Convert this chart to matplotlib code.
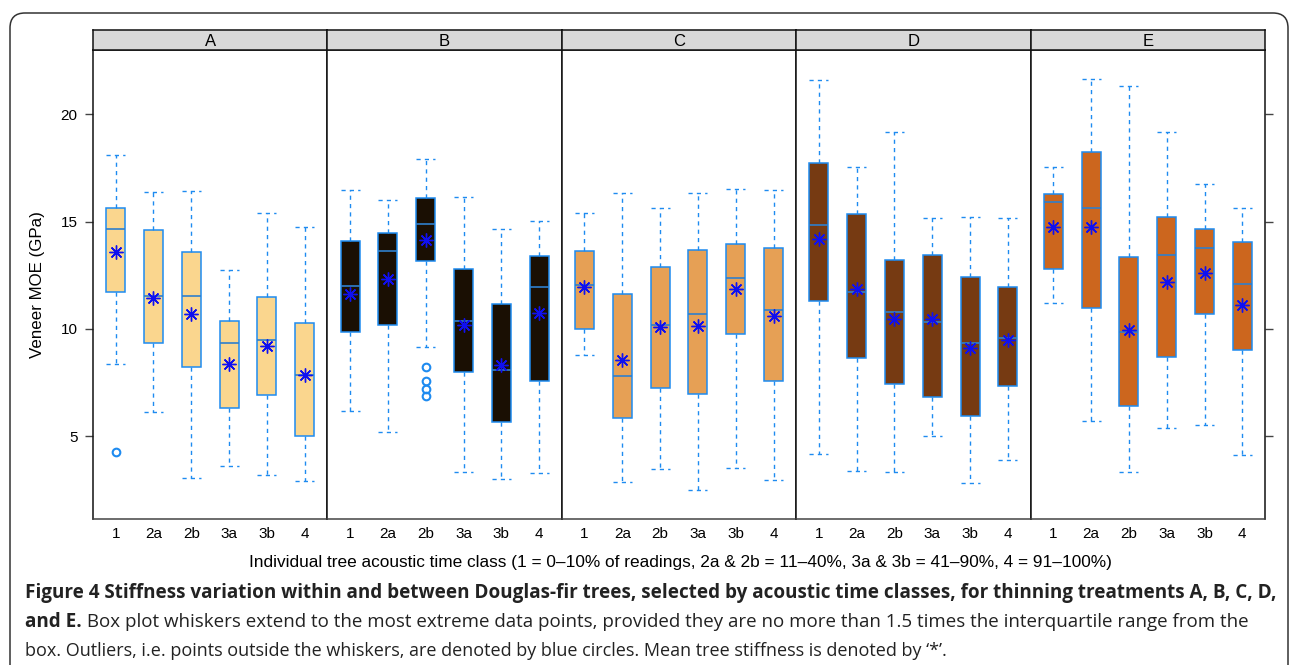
import matplotlib
matplotlib.use("Agg")
import matplotlib.pyplot as plt
from matplotlib import font_manager
from matplotlib.patches import FancyBboxPatch

W, H = 1290, 665

treatments = ["A", "B", "C", "D", "E"]
classes = ["1", "2a", "2b", "3a", "3b", "4"]
fills = ["#FAD68E", "#1A0F03", "#E6A055", "#763A12", "#CC661E"]

# values (GPa), one list per treatment, in class order
whislo = {
    "A": [8.39, 6.15, 3.08, 3.63, 3.21, 2.92],
    "B": [6.20, 5.19, 9.15, 3.36, 3.04, 3.32],
    "C": [8.78, 2.88, 3.50, 2.51, 3.55, 2.96],
    "D": [4.20, 3.41, 3.36, 5.00, 2.85, 3.89],
    "E": [11.19, 5.72, 3.33, 5.38, 5.55, 4.15],
}
q1 = {
    "A": [11.71, 9.33, 8.25, 6.31, 6.94, 5.00],
    "B": [9.88, 10.20, 13.15, 8.02, 5.66, 7.60],
    "C": [10.02, 5.85, 7.24, 6.99, 9.75, 7.58],
    "D": [11.32, 8.65, 7.43, 6.82, 5.95, 7.35],
    "E": [12.81, 10.98, 6.43, 8.68, 10.70, 9.02],
}
med = {
    "A": [14.65, 11.53, 11.52, 9.33, 9.47, 7.85],
    "B": [11.98, 13.64, 14.87, 10.36, 8.08, 11.94],
    "C": [12.03, 7.83, 10.19, 10.71, 12.36, 10.88],
    "D": [14.84, 11.74, 10.81, 10.34, 9.33, 9.57],
    "E": [15.91, 15.61, 9.84, 13.43, 13.75, 12.11],
}
q3 = {
    "A": [15.64, 14.59, 13.60, 10.39, 11.47, 10.26],
    "B": [14.11, 14.45, 16.08, 12.78, 11.18, 13.38],
    "C": [13.64, 11.61, 12.90, 13.69, 13.94, 13.77],
    "D": [17.71, 15.37, 13.19, 13.43, 12.40, 11.94],
    "E": [16.29, 18.25, 13.33, 15.22, 14.64, 14.03],
}
whishi = {
    "A": [18.11, 16.36, 16.43, 12.73, 15.41, 14.76],
    "B": [16.48, 15.98, 17.89, 16.14, 14.67, 15.02],
    "C": [15.41, 16.31, 15.61, 16.33, 16.53, 16.45],
    "D": [21.57, 17.52, 19.15, 15.18, 15.22, 15.18],
    "E": [17.52, 21.64, 21.32, 19.18, 16.73, 15.61],
}
means = {
    "A": [13.58, 11.46, 10.70, 8.36, 9.22, 7.85],
    "B": [11.63, 12.34, 14.12, 10.17, 8.31, 10.74],
    "C": [11.94, 8.57, 10.09, 10.14, 11.85, 10.62],
    "D": [14.17, 11.85, 10.48, 10.48, 9.13, 9.50],
    "E": [14.76, 14.76, 9.94, 12.19, 12.62, 11.12],
}
outliers = {
    "A": [[4.26], [], [], [], [], []],
    "B": [[], [], [8.25, 7.58, 7.22, 6.88], [], [], []],
    "C": [[], [], [], [], [], []],
    "D": [[], [], [], [], [], []],
    "E": [[], [], [], [], [], []],
}

ylabel = "Veneer MOE (GPa)"
xlabel = ("Individual tree acoustic time class (1 = 0\u201310% of readings, "
          "2a & 2b = 11\u201340%, 3a & 3b = 41\u201390%, 4 = 91\u2013100%)")
cap1 = ("Figure 4 Stiffness variation within and between Douglas-fir trees, selected by "
        "acoustic time classes, for thinning treatments A, B, C, D,")
cap2_bold = "and E."
cap2 = (" Box plot whiskers extend to the most extreme data points, provided they are "
        "no more than 1.5 times the interquartile range from the")
cap3 = ("box. Outliers, i.e. points outside the whiskers, are denoted by blue circles. "
        "Mean tree stiffness is denoted by \u2018*\u2019.")

plt.rcParams["font.family"] = ["Liberation Sans", "DejaVu Sans"]
available = {f.name for f in font_manager.fontManager.ttflist}
cap_font = "Liberation Sans Narrow" if "Liberation Sans Narrow" in available else "Open Sans"

blue = "#1E8BF0"
fig = plt.figure(figsize=(W / 100, H / 100), dpi=100)

# rounded frame around figure + caption
frame = FancyBboxPatch((0.10, -0.3), 12.78, 6.82, boxstyle="round,pad=0,rounding_size=0.15",
                       transform=fig.dpi_scale_trans, fill=False, ec="#333333", lw=1.1)
fig.patches.append(frame)

x0, x1, ytop, ybot = 93, 1265, 50, 519
pw = (x1 - x0) / 5
for i, tr in enumerate(treatments):
    ax = fig.add_axes([(x0 + i * pw) / W, 1 - ybot / H, pw / W, (ybot - ytop) / H])
    stats = []
    for j, c in enumerate(classes):
        stats.append(dict(label=c, whislo=whislo[tr][j], q1=q1[tr][j], med=med[tr][j],
                          q3=q3[tr][j], whishi=whishi[tr][j], mean=means[tr][j],
                          fliers=outliers[tr][j]))
    ax.bxp(stats, positions=range(1, 7), widths=0.5, capwidths=0.5, patch_artist=True,
           showmeans=True,
           boxprops=dict(facecolor=fills[i], edgecolor=blue, lw=1.1),
           medianprops=dict(color="#2F7FCC", lw=1.2),
           whiskerprops=dict(color=blue, lw=1.0, linestyle=(0, (3, 3))),
           capprops=dict(color=blue, lw=1.0, linestyle=(0, (3, 3))),
           flierprops=dict(marker="o", mfc="none", mec=blue, ms=5.5, mew=1.5),
           meanprops=dict(marker=(8, 2, 0), color="#1010F0", mec="#1010F0", ms=10, mew=1.0))
    ax.set_xlim(0.4, 6.6)
    ax.set_ylim(1.16, 22.98)
    ax.set_yticks([5, 10, 15, 20])
    ax.tick_params(axis="x", length=0, pad=6, labelsize=11)
    if i == 0:
        ax.tick_params(axis="y", direction="out", length=6, width=1.0, pad=5,
                       labelsize=11, color="#444444")
    elif i == 4:
        ax.tick_params(axis="y", direction="out", length=6, width=1.0, left=False,
                       labelleft=False, right=True, color="#444444")
    else:
        ax.tick_params(axis="y", left=False, labelleft=False)
    for s in ax.spines.values():
        s.set_linewidth(1.1)
        s.set_color("#111111")
    ax.spines["bottom"].set_color("#444444")

    sax = fig.add_axes([(x0 + i * pw) / W, 1 - ytop / H, pw / W, 20 / H])
    sax.set_facecolor("#D9D9D9")
    sax.set_xticks([])
    sax.set_yticks([])
    for s in sax.spines.values():
        s.set_linewidth(1.1)
        s.set_color("#111111")
    sax.text(0.5, 0.45, tr, ha="center", va="center", fontsize=12, transform=sax.transAxes)

fig.text(38 / W, 1 - 285 / H, ylabel, rotation=90, ha="center", va="center", fontsize=12.2)
fig.text(680 / W, 1 - 562 / H, xlabel, ha="center", va="center", fontsize=12.4)

# caption: fit each line to the widths seen in the reference
renderer = fig.canvas.get_renderer()
t1 = fig.text(25 / W, 1 - 593 / H, cap1, ha="left", va="center", fontsize=13,
              fontweight="bold", family=cap_font, color="#222222")
fs = 13 * 1242 / t1.get_window_extent(renderer).width
t1.set_fontsize(fs)
t2 = fig.text(25 / W, 1 - 622 / H, cap2_bold, ha="left", va="center", fontsize=fs,
              fontweight="bold", family=cap_font, color="#222222")
bb = t2.get_window_extent(renderer)
t3 = fig.text(25 / W, 1 - 651 / H, cap3, ha="left", va="center", fontsize=fs,
              family=cap_font, color="#222222")
fs_reg = fs * 926 / t3.get_window_extent(renderer).width
t3.set_fontsize(fs_reg)
t4 = fig.text(bb.x1 / W, 1 - 622 / H, cap2, ha="left", va="center", fontsize=fs_reg,
              family=cap_font, color="#222222")
fs2 = fs_reg * (1248 - bb.x1) / t4.get_window_extent(renderer).width
t4.set_fontsize(min(fs2, fs))

fig.savefig("out.png", dpi=100)
